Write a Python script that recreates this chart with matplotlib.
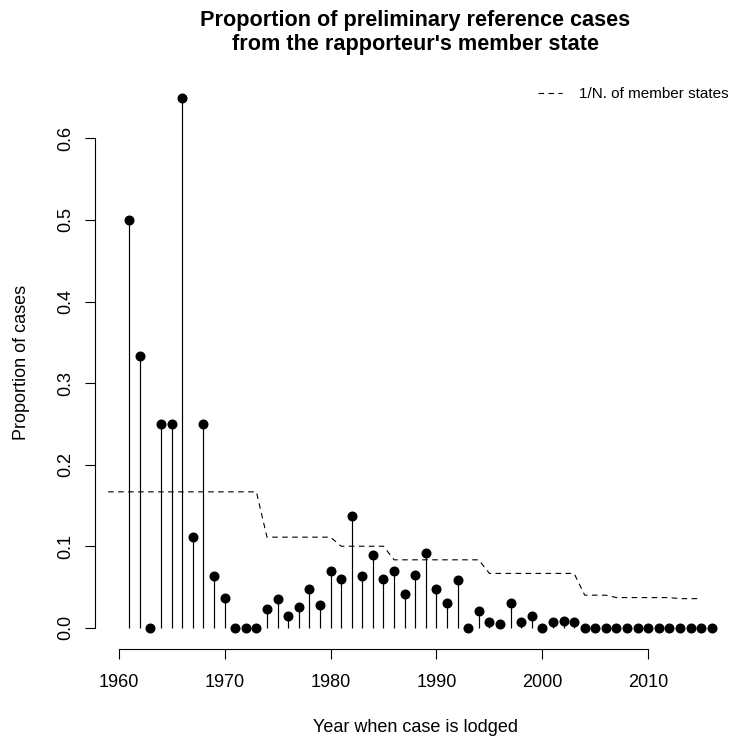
import matplotlib
matplotlib.use("Agg")
import matplotlib.pyplot as plt
import numpy as np

plt.rcParams['font.family'] = ['Liberation Sans', 'DejaVu Sans']

# ---- data ----
years = list(range(1961, 2017))
proportion = [0.5, 0.333, 0.0, 0.25, 0.25, 0.65, 0.111, 0.25, 0.064, 0.036,
              0.0, 0.0, 0.0, 0.023, 0.035, 0.014, 0.025, 0.047, 0.028, 0.070,
              0.060, 0.137, 0.064, 0.089, 0.060, 0.070, 0.042, 0.065, 0.092, 0.048,
              0.031, 0.058, 0.0, 0.020, 0.007, 0.005, 0.031, 0.007, 0.014, 0.0,
              0.007, 0.008, 0.007, 0.0, 0.0, 0.0, 0.0, 0.0, 0.0, 0.0,
              0.0, 0.0, 0.0, 0.0, 0.0, 0.0]
ms_years = [1959, 1973, 1974, 1980, 1981, 1985, 1986, 1994, 1995, 2003,
            2004, 2006, 2007, 2012, 2013, 2015]
ms_count = [6, 6, 9, 9, 10, 10, 12, 12, 15, 15, 25, 25, 27, 27, 28, 28]
xticks = [1960, 1970, 1980, 1990, 2000, 2010]
yticks = [0.0, 0.1, 0.2, 0.3, 0.4, 0.5, 0.6]

W, H = 730, 742
fig = plt.figure(figsize=(W / 100, H / 100), dpi=100)

left, right, top, bottom = 95, 735.5, 76.4, 649
ax = fig.add_axes([left / W, 1 - bottom / H, (right - left) / W, (bottom - top) / H])
ax.set_xlim(1957.76, 2018.24)
ax.set_ylim(-0.026, 0.676)

ax.vlines(years, 0, proportion, colors='black', linewidth=0.85)
ax.plot(years, proportion, 'o', color='black', markersize=6.2, linestyle='none')

inv = [1.0 / n for n in ms_count]
line, = ax.plot(ms_years, inv, color='black', linewidth=0.8,
                linestyle=(0, (5.0, 4.0)), label='1/N. of member states')

for s in ['top', 'right']:
    ax.spines[s].set_visible(False)
ax.spines['left'].set_bounds(0, 0.6)
ax.spines['bottom'].set_bounds(1960, 2010)
for s in ['left', 'bottom']:
    ax.spines[s].set_linewidth(0.8)

ax.set_xticks(xticks)
ax.set_xticklabels([str(x) for x in xticks])
ax.set_yticks(yticks)
ax.set_yticklabels(['%.1f' % y for y in yticks], rotation=90, va='center')
ax.tick_params(axis='both', direction='out', length=7.2, width=0.8, labelsize=13)
ax.tick_params(axis='x', pad=10.5)
ax.tick_params(axis='y', pad=8)

cx = (left + right) / 2
fig.text(cx / W, 1 - 26 / H, 'Proportion of preliminary reference cases',
         ha='center', va='baseline', fontsize=15.6, fontweight='bold')
fig.text(cx / W, 1 - 50 / H, "from the rapporteur's member state",
         ha='center', va='baseline', fontsize=15.6, fontweight='bold')
fig.text(cx / W, 1 - 727 / H, 'Year when case is lodged', ha='center', va='center', fontsize=13)
fig.text(22 / W, 1 - ((top + bottom) / 2) / H, 'Proportion of cases', ha='center', va='center',
         rotation=90, fontsize=13)

fig.legend(handles=[line], loc='center right', bbox_to_anchor=(728.5 / W, 1 - 94 / H),
           frameon=False, fontsize=11, handlelength=1.55, handletextpad=1.1,
           borderpad=0, borderaxespad=0)

fig.savefig('out.png', dpi=100)
